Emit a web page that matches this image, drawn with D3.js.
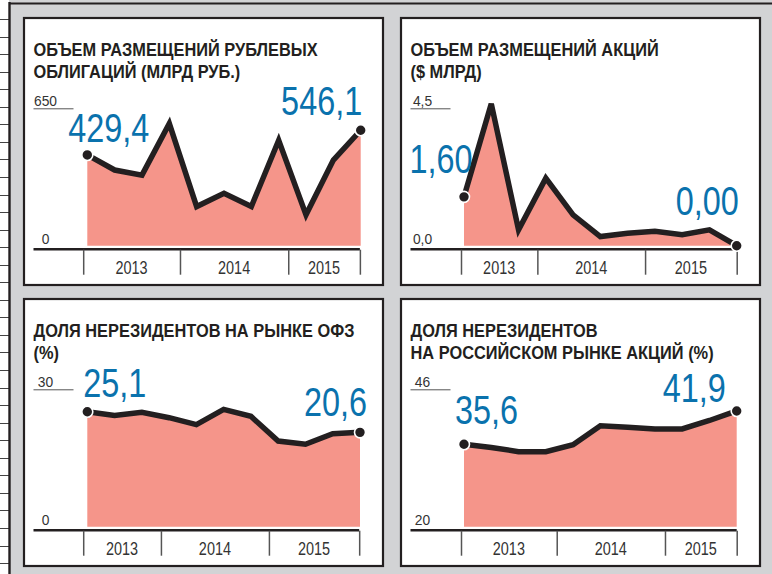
<!DOCTYPE html>
<html>
<head>
<meta charset="utf-8">
<script src="https://cdn.jsdelivr.net/npm/d3@7"></script>
<style>
  body { margin: 0; background: #fff; }
  svg { display: block; }
  text { font-family: "Liberation Sans Narrow", "Arial Narrow", "Liberation Sans", sans-serif; }
</style>
</head>
<body>
<svg width="772" height="574"></svg>
<script>
  // --- data ---
  const periods = [0, 1, 2, 3, 4, 5, 6, 7, 8, 9, 10];
  const years = ["2013", "2014", "2015"];

  const bondVolume   = [429.4, 358, 334, 578, 185, 248, 185, 499, 146, 405, 546.1];
  const equityVolume = [1.60, 4.65, 0.52, 2.21, 1.01, 0.30, 0.41, 0.47, 0.36, 0.52, 0.00];
  const ofzShare     = [25.1, 24.3, 25.0, 23.8, 22.3, 25.6, 24.1, 18.7, 18.0, 20.3, 20.6];
  const equityShare  = [35.6, 35.0, 34.2, 34.2, 35.5, 39.1, 38.8, 38.5, 38.5, 40.1, 41.9];

  // year boundaries, in period units
  const bondYearTicks   = [-0.15, 3.39, 7.35, 9.97];
  const equityYearTicks = [-0.11, 2.69, 6.64, 10];
  const ofzYearTicks    = [-0.15, 2.7, 6.66, 9.97];
  const shareYearTicks  = [-0.11, 3.4, 7.37, 10];

  const bondAxis   = ["0", "650"];
  const equityAxis = ["0,0", "4,5"];
  const ofzAxis    = ["0", "30"];
  const shareAxis  = ["20", "46"];

  const fmt = d3.format(".1f"), fmt2 = d3.format(".2f");
  const comma = s => s.replace(".", ",");

  const panels = [
    {x: 23, y: 17, title: ["ОБЪЕМ РАЗМЕЩЕНИЙ РУБЛЕВЫХ", "ОБЛИГАЦИЙ (МЛРД РУБ.)"],
     values: bondVolume, domain: [0, 650], axis: bondAxis, ticks: bondYearTicks,
     x0: 87.3, x1: 360.7, label: v => comma(fmt(v)),
     startOff: [-19, -13.3, "start"], endOff: [1.5, -15, "end"]},
    {x: 400, y: 17, title: ["ОБЪЕМ РАЗМЕЩЕНИЙ АКЦИЙ", "($ МЛРД)"],
     values: equityVolume, domain: [0, 4.5], axis: equityAxis, ticks: equityYearTicks,
     x0: 464, x1: 736.7, label: v => comma(fmt2(v)),
     startOff: [8.5, -24, "end"], endOff: [2, -31, "end"]},
    {x: 23, y: 298, title: ["ДОЛЯ НЕРЕЗИДЕНТОВ НА РЫНКЕ ОФЗ", "(%)"],
     values: ofzShare, domain: [0, 30], axis: ofzAxis, ticks: ofzYearTicks,
     x0: 87.3, x1: 360, label: v => comma(fmt(v)),
     startOff: [-4, -14.4, "start"], endOff: [7, -16.7, "end"]},
    {x: 400, y: 298, title: ["ДОЛЯ НЕРЕЗИДЕНТОВ", "НА РОССИЙСКОМ РЫНКЕ АКЦИЙ (%)"],
     values: equityShare, domain: [20, 46], axis: shareAxis, ticks: shareYearTicks,
     x0: 464, x1: 736.7, label: v => comma(fmt(v)),
     startOff: [-9, -20, "start"], endOff: [-11, -9, "end"]}
  ];

  const svg = d3.select("svg"),
        width = +svg.attr("width"),
        height = +svg.attr("height");

  const ink = "#231f20", blue = "#0a72ad", pink = "#f5958a", grey = "#d2d3d5";

  // no condensed face installed: squeeze the regular one
  function squeeze(sel, f) {
    sel.each(function() {
      const w = this.getComputedTextLength();
      d3.select(this).attr("textLength", w * f).attr("lengthAdjust", "spacingAndGlyphs");
    });
  }

  // page background, ruler strip and frame
  svg.append("rect").attr("width", width).attr("height", height).attr("fill", grey);
  svg.append("rect").attr("width", 9).attr("height", height).attr("fill", "#fff");
  svg.append("g").selectAll("line")
    .data(d3.range(19, height, 17.55))
    .join("line")
      .attr("x1", 0).attr("x2", 9)
      .attr("y1", d => Math.round(d) + 0.5).attr("y2", d => Math.round(d) + 0.5)
      .attr("stroke", "#444").attr("stroke-width", 1);
  svg.append("line").attr("x1", 9.5).attr("x2", 9.5).attr("y1", 2).attr("y2", height)
    .attr("stroke", ink).attr("stroke-width", 2.4);
  svg.append("line").attr("x1", 9).attr("x2", width).attr("y1", 3.5).attr("y2", 3.5)
    .attr("stroke", ink).attr("stroke-width", 2);

  panels.forEach(p => {
    const g = svg.append("g");
    const left = p.x + 10.5;

    g.append("rect")
      .attr("x", p.x + 1).attr("y", p.y + 1)
      .attr("width", 359).attr("height", 267)
      .attr("fill", "#fff").attr("stroke", ink).attr("stroke-width", 2.2);

    // title
    g.selectAll(".title").data(p.title).join("text")
      .attr("class", "title")
      .attr("x", left).attr("y", (d, i) => p.y + 39 + i * 21.5)
      .attr("font-weight", "bold").attr("font-size", 18.5).attr("fill", ink)
      .text(d => d)
      .call(squeeze, 0.885);

    const x = d3.scaleLinear().domain([0, periods.length - 1]).range([p.x0, p.x1]);
    const y = d3.scaleLinear().domain(p.domain).range([p.y + 228.7, p.y + 91.3]);
    const base = y(p.domain[0]);

    // y labels
    g.append("line")
      .attr("x1", left).attr("x2", left + 40)
      .attr("y1", y(p.domain[1]) + 0.5).attr("y2", y(p.domain[1]) + 0.5)
      .attr("stroke", "#555").attr("stroke-width", 1);
    g.selectAll(".ylab").data(p.axis).join("text")
      .attr("class", "ylab")
      .attr("x", left + 12)
      .attr("y", (d, i) => i ? y(p.domain[1]) - 2.5 : base - 1.5)
      .attr("text-anchor", "middle").attr("font-size", 15).attr("fill", "#333")
      .text(d => d)
      .call(squeeze, 0.92);

    // area + line
    g.append("path")
      .datum(p.values)
      .attr("fill", pink)
      .attr("d", d3.area().x((d, i) => x(periods[i])).y0(base).y1(d => y(d)));

    g.append("path")
      .datum(p.values)
      .attr("fill", "none").attr("stroke", ink).attr("stroke-width", 5.5)
      .attr("stroke-linejoin", "miter")
      .attr("d", d3.line().x((d, i) => x(periods[i])).y(d => y(d)));

    // base axis
    const last = p.ticks[p.ticks.length - 1];
    g.append("line")
      .attr("x1", left).attr("x2", x(last))
      .attr("y1", base + 3.5).attr("y2", base + 3.5)
      .attr("stroke", ink).attr("stroke-width", 2.5);

    const ax = g.append("g")
      .attr("transform", `translate(0,${base + 4})`)
      .call(d3.axisBottom(x).tickValues(p.ticks).tickSize(25).tickFormat(""));
    ax.select(".domain").remove();
    ax.selectAll(".tick line").attr("stroke", "#555").attr("stroke-width", 1.5);

    g.selectAll(".year").data(years).join("text")
      .attr("class", "year")
      .attr("x", (d, i) => (x(p.ticks[i]) + x(p.ticks[i + 1])) / 2)
      .attr("y", base + 28)
      .attr("text-anchor", "middle").attr("font-size", 19).attr("fill", "#333")
      .text(d => d)
      .call(squeeze, 0.76);

    // end dots and value labels
    const ends = [0, p.values.length - 1];
    g.selectAll(".dot").data(ends).join("circle")
      .attr("class", "dot")
      .attr("cx", i => x(periods[i])).attr("cy", i => y(p.values[i]))
      .attr("r", 5.5)
      .attr("fill", ink).attr("stroke", "#fff").attr("stroke-width", 1.6);

    [[0, p.startOff], [p.values.length - 1, p.endOff]].forEach(([i, off]) => {
      g.append("text")
        .attr("x", x(periods[i]) + off[0])
        .attr("y", y(p.values[i]) + off[1])
        .attr("text-anchor", off[2])
        .attr("font-size", 40).attr("fill", blue)
        .text(p.label(p.values[i]))
        .call(squeeze, 0.81);
    });
  });
</script>
</body>
</html>
